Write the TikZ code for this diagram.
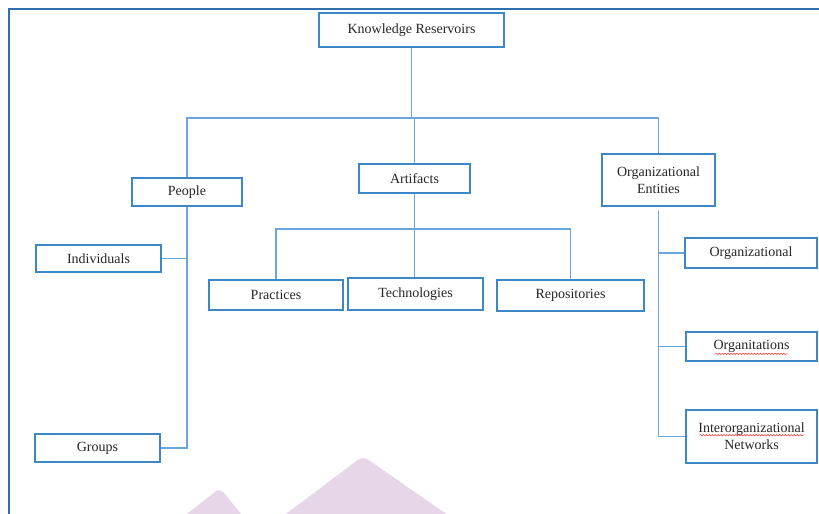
\documentclass[tikz,border=0pt]{standalone}
\usepackage{fontspec}
\setmainfont{Liberation Serif}
\usetikzlibrary{decorations.pathmorphing}
\definecolor{boxblue}{HTML}{3B87C8}
\definecolor{lineblue}{HTML}{6AA6DA}
\definecolor{framecol}{HTML}{2F6FAE}
\definecolor{wm}{HTML}{E6D6E8}
\tikzset{
  box/.style={draw=boxblue, line width=0.9pt, fill=white, inner sep=1pt, align=center,
    font=\fontsize{10.5}{12.5}\selectfont, text=black!85},
  conn/.style={draw=lineblue, line width=1.3pt},
  spell/.style={draw=red!80, line width=0.4pt, decorate,
    decoration={snake, amplitude=0.5pt, segment length=2.2pt}}
}
\begin{document}
\begin{tikzpicture}[x=0.75pt, y=-0.75pt]
\useasboundingbox (0,0) rectangle (819,514);
% frame
\draw[framecol, line width=1pt] (9,514) -- (9,9) -- (819,9);
% watermark
\fill[wm, rounded corners=5pt] (278,520) -- (363,456) -- (455,520) -- cycle;
\fill[wm, rounded corners=4pt] (179,520) -- (220,488) -- (246,520) -- cycle;
% nodes
\node[box, minimum width=138.75pt, minimum height=25.5pt] (kr) at (411.5,30) {Knowledge Reservoirs};
\node[box, minimum width=82.5pt, minimum height=21pt] (people) at (187,192) {People};
\node[box, minimum width=83.25pt, minimum height=21.75pt] (artifacts) at (414.5,178.5) {Artifacts};
\node[box, minimum width=84.75pt, minimum height=39pt] (orgent) at (658.5,180) {Organizational\\Entities};
\node[box, minimum width=93.75pt, minimum height=20.25pt] (individuals) at (98.5,258.5) {Individuals};
\node[box, minimum width=93.75pt, minimum height=21pt] (groups) at (97.5,448) {Groups};
\node[box, minimum width=100.5pt, minimum height=22.5pt] (practices) at (276,295) {Practices};
\node[box, minimum width=101.25pt, minimum height=24pt] (technologies) at (415.5,294) {Technologies};
\node[box, minimum width=110.25pt, minimum height=23.25pt] (repositories) at (570.5,295.5) {Repositories};
\node[box, minimum width=99pt, minimum height=22.5pt] (organizational) at (751,253) {Organizational};
\node[box, minimum width=98.25pt, minimum height=21.75pt] (organitations) at (751.5,346.5) {Organitations};
\node[box, minimum width=98.25pt, minimum height=39.75pt] (interorg) at (751.5,436.5) {Interorganizational\\Networks};
% spelling marks
\draw[spell] ([xshift=-27pt,yshift=-5.5pt]organitations.center) -- ([xshift=27pt,yshift=-5.5pt]organitations.center);
\draw[spell] ([xshift=-39pt,yshift=1pt]interorg.center) -- ([xshift=39pt,yshift=1pt]interorg.center);
% connectors
\coordinate (bus) at (411.5,118);
\coordinate (abus) at (414.5,229);
\draw[conn] (kr.south) -- (bus);
\draw[conn] (people.north) |- (bus) -| (orgent.north);
\draw[conn] (artifacts.north) -- (artifacts.north |- bus);
\draw[conn] (people.south) |- (groups.east);
\draw[conn] (individuals.east) -- (individuals.east -| people.south);
\draw[conn] (artifacts.south) -- (artifacts.south |- technologies.north);
\draw[conn] (practices.north) |- (abus) -| (repositories.north);
\draw[conn] ([yshift=-3pt]orgent.south) |- (interorg.west);
\draw[conn] (organizational.west) -- (organizational.west -| orgent.south);
\draw[conn] (organitations.west) -- (organitations.west -| orgent.south);
\end{tikzpicture}
\end{document}
